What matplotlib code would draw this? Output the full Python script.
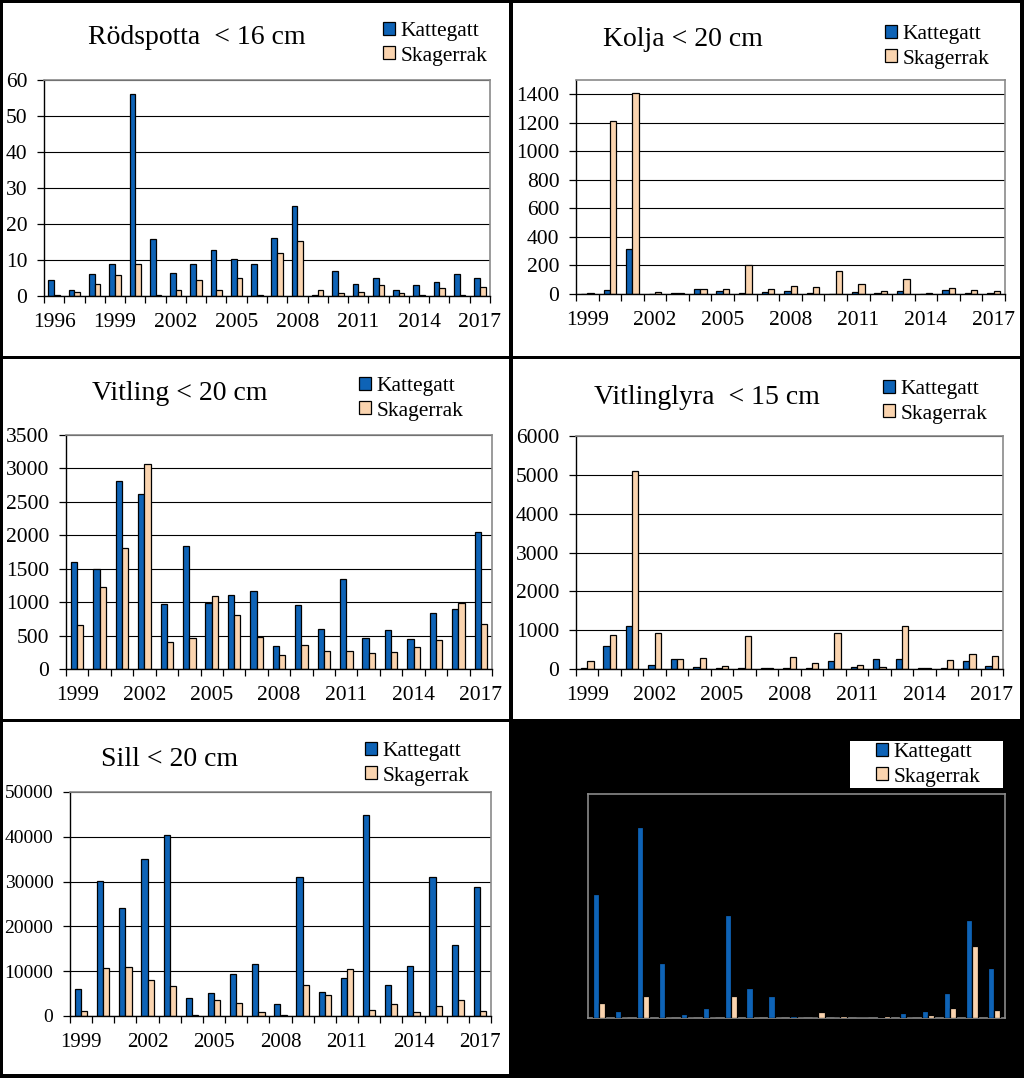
import matplotlib
matplotlib.use('Agg')
import matplotlib.pyplot as plt
from matplotlib.patches import Rectangle, Patch
import numpy as np

plt.rcParams['font.family'] = ['Liberation Serif', 'DejaVu Serif']

# ---------------- data ----------------
years_rod = list(range(1996, 2018))
rod_kat = [4.5, 1.8, 6.1, 9.0, 56.0, 15.8, 6.4, 8.9, 12.9, 10.3, 8.9, 16.0, 24.9, 0.4, 6.9, 3.3, 5.0, 1.6, 3.1, 3.9, 6.0, 5.0]
rod_ska = [0.2, 1.2, 3.3, 5.7, 8.9, 0.4, 1.6, 4.5, 1.8, 4.9, 0.4, 11.9, 15.3, 1.8, 0.7, 1.2, 3.1, 0.7, 0.4, 2.1, 0.4, 2.4]

years = list(range(1999, 2018))
kolja_kat = [3, 28, 315, 3, 8, 38, 22, 8, 15, 20, 8, 0, 15, 8, 20, 3, 28, 8, 8]
kolja_ska = [8, 1210, 1410, 15, 8, 38, 38, 205, 32, 58, 50, 160, 70, 20, 105, 8, 45, 25, 20]

vitling_kat = [1600, 1490, 2805, 2625, 965, 1845, 980, 1110, 1170, 340, 950, 600, 1340, 460, 585, 445, 835, 890, 2050]
vitling_ska = [655, 1230, 1805, 3065, 410, 465, 1095, 810, 485, 210, 355, 275, 275, 240, 250, 330, 430, 985, 680]

lyra_kat = [25, 590, 1115, 95, 255, 50, 25, 25, 15, 25, 25, 205, 50, 255, 255, 15, 25, 205, 70]
lyra_ska = [215, 880, 5090, 920, 255, 275, 70, 840, 15, 320, 155, 920, 110, 50, 1115, 15, 225, 395, 330]

sill_kat = [5970, 30060, 24000, 35100, 40500, 3950, 5200, 9400, 11500, 2600, 31000, 5370, 8580, 44900, 6860, 11100, 31000, 15900, 28900]
sill_ska = [1190, 10740, 10970, 8100, 6700, 220, 3580, 2830, 900, 220, 6860, 4770, 10440, 1270, 2600, 900, 2240, 3580, 1120]

dark_kat = [55.3, 3.1, 85.1, 24.7, 1.6, 4.3, 46.1, 13.6, 9.7, 0.7, 0, 0, 0, 0.5, 2.4, 3.1, 11.3, 43.7, 22.2]
dark_ska = [6.7, 0, 9.7, 0, 0, 0, 9.7, 0, 0, 0, 2.8, 0.7, 0, 0.7, 0, 1.2, 4.5, 32.2, 3.6]

rod_yticks = [0, 10, 20, 30, 40, 50, 60]
kolja_yticks = [0, 200, 400, 600, 800, 1000, 1200, 1400]
vitling_yticks = [0, 500, 1000, 1500, 2000, 2500, 3000, 3500]
lyra_yticks = [0, 1000, 2000, 3000, 4000, 5000, 6000]
sill_yticks = [0, 10000, 20000, 30000, 40000, 50000]

series_labels = ['Kattegatt', 'Skagerrak']
titles = ['Rödspotta  < 16 cm', 'Kolja < 20 cm', 'Vitling < 20 cm',
          'Vitlinglyra  < 15 cm', 'Sill < 20 cm']

# ---------------- layout ----------------
W, H = 1024, 1078
fig = plt.figure(figsize=(W / 100, H / 100), dpi=100, facecolor='black')

KAT = '#0E63B6'
SKA = '#FAD4AF'
GREY = '#8a8a8a'


def fx(x):
    return x / W


def fy(y):
    return 1 - y / H


def add_panel(x0, y0, x1, y1, color='white'):
    fig.add_artist(Rectangle((fx(x0), fy(y1)), fx(x1) - fx(x0), fy(y0) - fy(y1),
                             transform=fig.transFigure, facecolor=color,
                             edgecolor='none', zorder=-5))


def make_axes(l, t, r, b):
    return fig.add_axes([fx(l), fy(b), fx(r) - fx(l), fy(t) - fy(b)])


def draw_chart(ax, yrs, kat, ska, yticks, ymax, dark=False, xsize=15.5, ysize=15.5):
    n = len(yrs)
    x = np.arange(n)
    w = 0.28
    ax.bar(x - w / 2, kat, w, color=KAT, edgecolor='black', linewidth=0.9, zorder=2)
    ax.bar(x + w / 2, ska, w, color=SKA, edgecolor='black', linewidth=0.9, zorder=2)
    ax.set_xlim(-0.5, n - 0.5)
    ax.set_ylim(0, ymax)
    if dark:
        ax.set_facecolor('black')
        for s in ax.spines.values():
            s.set_color(GREY)
            s.set_linewidth(1.2)
            s.set_zorder(1)
        ax.set_xticks([])
        ax.set_yticks([])
        return
    ax.set_facecolor('white')
    ax.set_axisbelow(True)
    ax.set_yticks(yticks)
    ax.set_yticklabels([str(v) for v in yticks])
    ax.grid(axis='y', color='black', linewidth=0.8)
    ax.set_xticks(x[::3])
    ax.set_xticklabels([str(y) for y in yrs[::3]])
    ax.set_xticks(np.arange(n + 1) - 0.5, minor=True)
    ax.tick_params(axis='x', which='major', length=0, pad=12, labelsize=xsize)
    ax.tick_params(axis='x', which='minor', length=5, width=0.9, direction='out', color='black')
    ax.tick_params(axis='y', which='major', length=5, width=0.9, direction='out', pad=7, labelsize=ysize)
    for side in ['top', 'right']:
        ax.spines[side].set_color(GREY)
        ax.spines[side].set_linewidth(1.2)
    ax.spines['left'].set_color('black')
    ax.spines['left'].set_linewidth(1.0)
    ax.spines['bottom'].set_color('black')
    ax.spines['bottom'].set_linewidth(1.0)


def add_legend(lx, ly):
    handles = [Patch(facecolor=KAT, edgecolor='black', linewidth=0.9),
               Patch(facecolor=SKA, edgecolor='black', linewidth=0.9)]
    fig.legend(handles, series_labels, loc='upper left',
               bbox_to_anchor=(fx(lx), fy(ly)), frameon=False, fontsize=15.5,
               handlelength=0.55, handleheight=0.55, handletextpad=0.25,
               labelspacing=0.25, borderpad=0, borderaxespad=0)


# white panels
add_panel(3, 3, 509, 356)
add_panel(513, 3, 1020, 356)
add_panel(3, 359, 509, 719)
add_panel(513, 359, 1020, 719)
add_panel(3, 722, 509, 1074)

ax1 = make_axes(44, 80, 490, 296)
draw_chart(ax1, years_rod, rod_kat, rod_ska, rod_yticks, 60)
ax2 = make_axes(576, 80, 1005, 294)
draw_chart(ax2, years, kolja_kat, kolja_ska, kolja_yticks, 1500)
ax3 = make_axes(66, 435, 492, 669)
draw_chart(ax3, years, vitling_kat, vitling_ska, vitling_yticks, 3500)
ax4 = make_axes(576, 436, 1003, 669)
draw_chart(ax4, years, lyra_kat, lyra_ska, lyra_yticks, 6000)
ax5 = make_axes(70, 792, 491, 1016)
draw_chart(ax5, years, sill_kat, sill_ska, sill_yticks, 50000, xsize=15, ysize=14)
ax6 = make_axes(588, 794, 1005, 1018)
draw_chart(ax6, years, dark_kat, dark_ska, None, 100, dark=True)

# titles
title_pos = [(197, 37), (683, 40), (180, 393), (707, 397), (170, 760)]
for t, (cx, cy) in zip(titles, title_pos):
    fig.text(fx(cx), fy(cy), t, ha='center', va='center', fontsize=20, color='black')

# legends
add_legend(383, 22)
add_legend(885, 25)
add_legend(359, 377)
add_legend(883, 380)
add_legend(365, 742)
add_panel(850, 741, 1003, 788)
add_legend(876, 743)

fig.savefig('out.png', dpi=100, facecolor='black')
